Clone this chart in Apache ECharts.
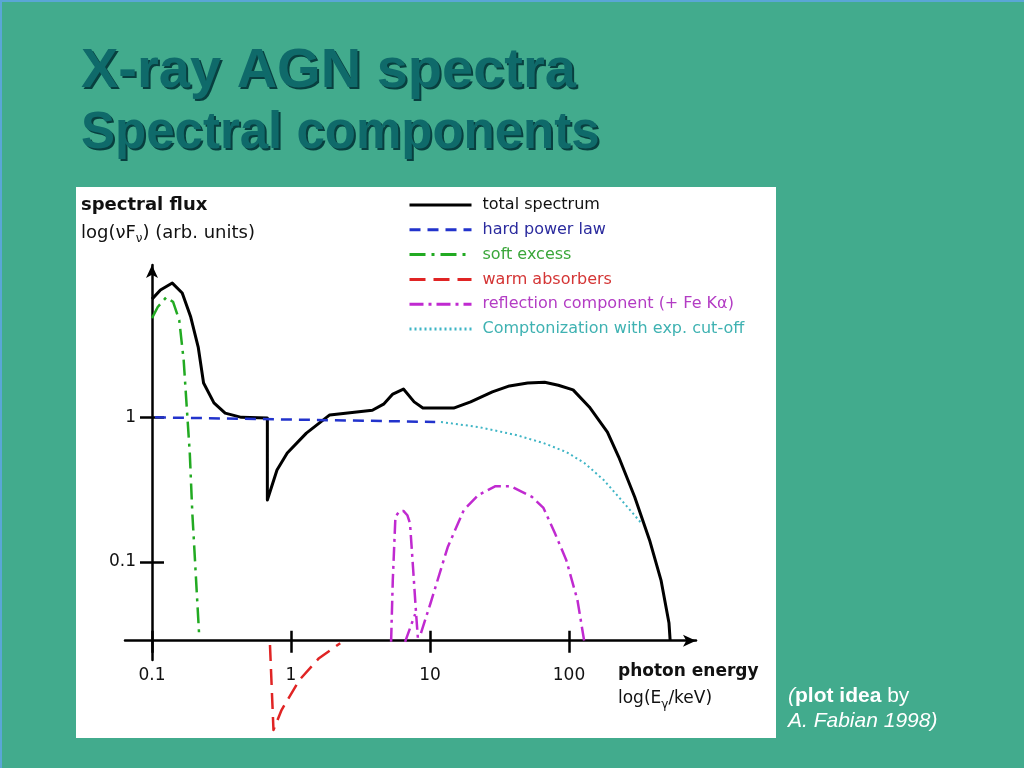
<!DOCTYPE html>
<html><head><meta charset="utf-8">
<script src="https://cdn.jsdelivr.net/npm/echarts@6/dist/echarts.min.js"></script>
<style>html,body{margin:0;padding:0;background:#42ab8d;}#c{width:1024px;height:768px;}</style>
</head><body><div id="c"></div>
<script>
// ---- data (photon energy in keV, flux nuFnu in arbitrary units) ----
const X_ORIGIN_KEV = 0.1;      // energy where the flux axis stands
const Y_ORIGIN_FLUX = 0.0284;  // flux where the energy axis crosses
const xTickLabels = [0.1, 1, 10, 100];
const yTickLabels = [0.1, 1];
const seriesNames = ['total spectrum', 'hard power law', 'soft excess', 'warm absorbers',
  'reflection component (+ Fe K\u03b1)', 'Comptonization with exp. cut-off'];

const totalSpectrum = [[0.1,6.59],[0.115,7.62],[0.140,8.51],[0.165,7.26],[0.190,4.95],[0.215,3.07],
  [0.235,1.73],[0.279,1.26],[0.336,1.07],[0.439,1.0],[0.676,0.99],[0.676,0.268],[0.793,0.432],
  [0.94,0.566],[1.29,0.778],[1.90,1.04],[3.85,1.12],[4.67,1.24],[5.40,1.45],[6.44,1.57],[7.69,1.28],
  [8.89,1.16],[14.8,1.16],[19.6,1.28],[28.1,1.50],[37.3,1.65],[50.4,1.73],[66.8,1.75],[83.8,1.67],
  [107,1.55],[140,1.18],[189,0.791],[228,0.531],[297,0.281],[380,0.141],[459,0.0747],[524,0.0376],[534,0.0287]];
const hardPowerLaw = [[0.105,1.0],[10.9,0.93]];
const softExcess = [[0.1,4.87],[0.110,5.81],[0.127,6.81],[0.142,6.29],[0.157,4.72],[0.169,2.49],
  [0.177,1.26],[0.187,0.567],[0.195,0.218],[0.200,0.142],[0.219,0.0296]];
const warmAbsorbers = [[0.706,0.0265],[0.748,0.00683],[0.855,0.0094],[1.15,0.0152],[1.59,0.0215],[2.26,0.0273]];
const reflFeLine = [[5.25,0.0279],[5.40,0.0747],[5.64,0.205],[6.04,0.224],[6.44,0.225],[6.87,0.210],
  [7.18,0.185],[7.57,0.0877],[7.94,0.0441],[8.20,0.0287]];
const reflEdge = [[6.62,0.0279],[7.82,0.0434]];
const reflHump = [[8.61,0.0321],[10.1,0.0518],[13.4,0.126],[17.5,0.228],[22.3,0.290],[29.6,0.334],
  [37.9,0.334],[54.2,0.281],[65.5,0.236],[79.1,0.158],[95.5,0.103],[115,0.0543],[129,0.0278]];
const comptonization = [[12.0,0.928],[22.4,0.857],[41.7,0.754],[65.6,0.664],[95.7,0.575],[129,0.483],
  [178,0.368],[228,0.281],[275,0.228],[327,0.188]];

// ---- build ----
const toXY = pts => pts.map(p => [Math.log10(p[0] / X_ORIGIN_KEV), Math.log10(p[1] / Y_ORIGIN_FLUX)]);
const xTicks = xTickLabels.map(v => Math.log10(v / X_ORIGIN_KEV));
const yTicks = yTickLabels.map(v => Math.log10(v / Y_ORIGIN_FLUX));
const fmtX = v => String(Number((X_ORIGIN_KEV * Math.pow(10, v)).toPrecision(2)));
const fmtY = v => String(Number((Y_ORIGIN_FLUX * Math.pow(10, v)).toPrecision(1)));
const FONT = '"DejaVu Sans", sans-serif';
const SANS = '"Liberation Sans", Arial, sans-serif';
const XMIN = -0.1942, XMAX = 3.9137, YMIN = -0.1337, YMAX = 2.6018;
const axisLineStyle = {color: '#000', width: 2.5};

function lineSeries(name, data, color, width, dash) {
  return {type: 'line', name: name, data: toXY(data), symbol: 'none', clip: false, smooth: false,
    animation: false, lineStyle: {color: color, width: width, type: dash, cap: 'butt', join: 'round'},
    itemStyle: {color: color}, emphasis: {disabled: true}, z: 3};
}
const colors = ['#000000', '#2233cc', '#22aa22', '#e02424', '#c02ad0', '#3fb5c5'];
const textColors = ['#111111', '#2b2b9e', '#3aa63a', '#d43535', '#b33cc4', '#3fb2b2'];

const option = {
  backgroundColor: '#42ab8d',
  animation: false,
  textStyle: {fontFamily: FONT},
  grid: {left: 125, right: 328, top: 265, bottom: 108, containLabel: false},
  xAxis: [
    {type: 'value', min: XMIN, max: XMAX, position: 'bottom',
      axisLine: {show: true, onZero: true, lineStyle: axisLineStyle, symbol: ['none', 'arrow'], symbolSize: [9, 13]},
      axisTick: {show: true, inside: true, length: 10, customValues: xTicks, lineStyle: axisLineStyle},
      axisLabel: {show: true, customValues: xTicks, formatter: fmtX, margin: 7, color: '#111', fontFamily: FONT, fontSize: 17},
      splitLine: {show: false}},
    {type: 'value', min: XMIN, max: XMAX, position: 'bottom',
      axisLine: {show: false, onZero: true},
      axisTick: {show: true, inside: false, length: 12, customValues: xTicks, lineStyle: axisLineStyle},
      axisLabel: {show: false}, splitLine: {show: false}}
  ],
  yAxis: [
    {type: 'value', min: YMIN, max: YMAX, position: 'left',
      axisLine: {show: true, onZero: true, lineStyle: axisLineStyle, symbol: ['none', 'arrow'], symbolSize: [9, 13]},
      axisTick: {show: true, inside: true, length: 12, customValues: yTicks, lineStyle: axisLineStyle},
      axisLabel: {show: true, customValues: yTicks, formatter: fmtY, margin: -11, color: '#111', fontFamily: FONT, fontSize: 17},
      splitLine: {show: false}},
    {type: 'value', min: YMIN, max: YMAX, position: 'left',
      axisLine: {show: false, onZero: true},
      axisTick: {show: true, inside: false, length: 12, customValues: yTicks, lineStyle: axisLineStyle},
      axisLabel: {show: false}, splitLine: {show: false}}
  ],
  legend: {
    orient: 'vertical', left: 403, top: 192, itemWidth: 62, itemHeight: 16, itemGap: 8.8,
    selectedMode: false, itemStyle: {opacity: 0}, lineStyle: {width: 3},
    textStyle: {fontFamily: FONT, fontSize: 16, padding: [0, 0, 0, 6]},
    data: seriesNames.map((n, i) => ({name: n, textStyle: {color: textColors[i]}}))
  },
  series: [
    lineSeries(seriesNames[0], totalSpectrum, colors[0], 3, 'solid'),
    lineSeries(seriesNames[1], hardPowerLaw, colors[1], 2.5, [11, 7]),
    lineSeries(seriesNames[2], softExcess, colors[2], 2.5, [16, 6, 3, 6]),
    lineSeries(seriesNames[3], warmAbsorbers, colors[3], 2.5, [16, 8]),
    lineSeries(seriesNames[4], reflFeLine, colors[4], 2.5, [14, 5, 3, 5]),
    lineSeries(seriesNames[4], reflEdge, colors[4], 2.5, [14, 5, 3, 5]),
    lineSeries(seriesNames[4], reflHump, colors[4], 2.5, [14, 5, 3, 5]),
    lineSeries(seriesNames[5], comptonization, colors[5], 2, [2, 3])
  ],
  graphic: [
    {type: 'rect', z: -10, silent: true, shape: {x: 76, y: 187, width: 700, height: 551}, style: {fill: '#ffffff'}},
    {type: 'rect', z: -10, silent: true, shape: {x: 0, y: 0, width: 1024, height: 2}, style: {fill: '#5aa6d6'}},
    {type: 'rect', z: -10, silent: true, shape: {x: 0, y: 0, width: 2, height: 768}, style: {fill: '#5aa6d6'}},
    {type: 'text', z: 50, x: 83, y: 74, style: {text: 'X-ray AGN spectra', font: 'bold 56px ' + SANS, fill: '#083f3f', verticalAlign: 'middle'}},
    {type: 'text', z: 51, x: 81, y: 72, style: {text: 'X-ray AGN spectra', font: 'bold 56px ' + SANS, fill: '#0f6a6a', verticalAlign: 'middle'}},
    {type: 'text', z: 50, x: 83, y: 136, style: {text: 'Spectral components', font: 'bold 51px ' + SANS, fill: '#083f3f', verticalAlign: 'middle'}},
    {type: 'text', z: 51, x: 81, y: 134, style: {text: 'Spectral components', font: 'bold 51px ' + SANS, fill: '#0f6a6a', verticalAlign: 'middle'}},
    {type: 'text', z: 60, x: 81, y: 205, style: {text: 'spectral flux', font: 'bold 18px ' + FONT, fill: '#111', verticalAlign: 'middle'}},
    {type: 'text', z: 60, x: 81, y: 233, style: {text: '{n|log(\u03bdF}{s|\u03bd}{n|) (arb. units)}', verticalAlign: 'middle',
      rich: {n: {fontFamily: FONT, fontSize: 18, lineHeight: 24, fill: '#111'},
             s: {fontFamily: FONT, fontSize: 12, lineHeight: 12, verticalAlign: 'bottom', fill: '#111'}}}},
    {type: 'text', z: 60, x: 618, y: 672, style: {text: 'photon energy', font: 'bold 17px ' + FONT, fill: '#111', verticalAlign: 'middle'}},
    {type: 'text', z: 60, x: 618, y: 699, style: {text: '{n|log(E}{s|\u03b3}{n|/keV)}', verticalAlign: 'middle',
      rich: {n: {fontFamily: FONT, fontSize: 17, lineHeight: 24, fill: '#111'},
             s: {fontFamily: FONT, fontSize: 12, lineHeight: 12, verticalAlign: 'bottom', fill: '#111'}}}},
    {type: 'text', z: 60, x: 788, y: 696, style: {text: '{i|(}{b|plot idea}{r| by}', verticalAlign: 'middle',
      rich: {i: {fontFamily: SANS, fontStyle: 'italic', fontSize: 21, fill: '#fff'},
             b: {fontFamily: SANS, fontWeight: 'bold', fontSize: 21, fill: '#fff'},
             r: {fontFamily: SANS, fontSize: 21, fill: '#fff'}}}},
    {type: 'text', z: 60, x: 788, y: 721, style: {text: 'A. Fabian 1998)', font: 'italic 21px ' + SANS, fill: '#fff', verticalAlign: 'middle'}}
  ]
};
const chart = echarts.init(document.getElementById('c'), null, {renderer: 'canvas'});
chart.setOption(option);
</script></body></html>
